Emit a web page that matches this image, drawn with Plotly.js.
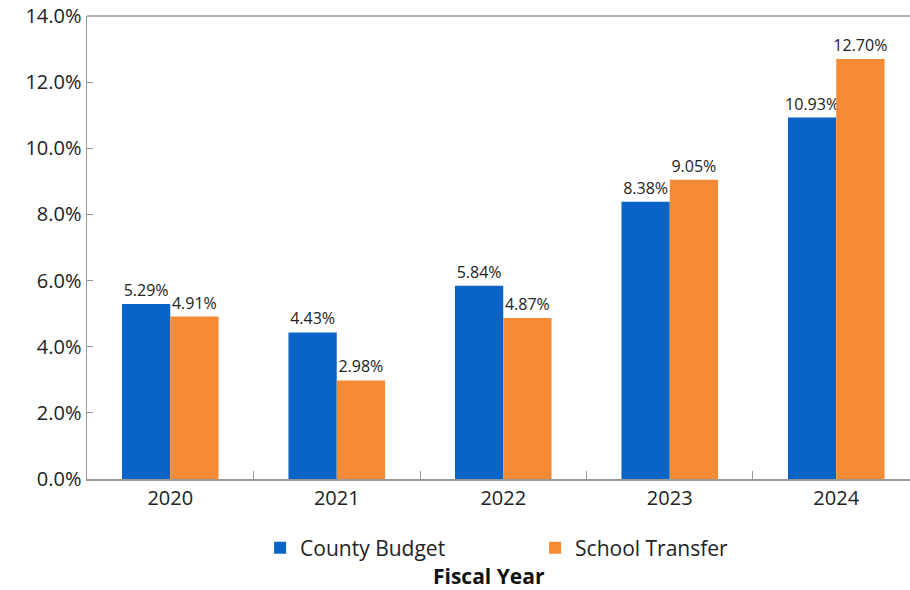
<!DOCTYPE html>
<html><head><meta charset="utf-8">
<script src="https://cdn.plot.ly/plotly-3.0.1.min.js"></script>
<style>html,body{margin:0;padding:0;background:#fff;overflow:hidden}</style>
</head><body><div id="chart" style="width:910px;height:590px"></div>
<script>
const years = ['2020','2021','2022','2023','2024'];
const countyBudget = [5.29, 4.43, 5.84, 8.38, 10.93];
const schoolTransfer = [4.91, 2.98, 4.87, 9.05, 12.70];
const yTicks = [0,2,4,6,8,10,12,14];
const yTickText = yTicks.map(v => v.toFixed(1) + '%');

const font = 'Open Sans, Noto Sans, sans-serif';
const traces = [
  {type:'bar', name:'County Budget', x:years, y:countyBudget,
   marker:{color:'#0a64c8'}, text:countyBudget.map(v=>v.toFixed(2)+'%'),
   textposition:'outside', constraintext:'none', textfont:{size:16,color:'#222',family:font}, cliponaxis:false, hoverinfo:'none'},
  {type:'bar', name:'School Transfer', x:years, y:schoolTransfer,
   marker:{color:'#f78a35'}, text:schoolTransfer.map(v=>v.toFixed(2)+'%'),
   textposition:'outside', constraintext:'none', textfont:{size:16,color:'#222',family:font}, cliponaxis:false, hoverinfo:'none'}
];
const layout = {
  width:910, height:590,
  margin:{l:87, r:0, t:16, b:111, pad:0},
  paper_bgcolor:'#fff', plot_bgcolor:'#fff',
  font:{family:font, color:'#222'},
  barmode:'group', bargap:0.42, bargroupgap:0,
  xaxis:{type:'category', range:[-0.5,4.443], automargin:false, showline:true, linecolor:'#999', linewidth:1.5,
    ticks:'inside', tickson:'boundaries', ticklen:8, tickcolor:'#999',
    tickfont:{size:20,color:'#222'}, showgrid:false, fixedrange:true},
  yaxis:{range:[0,14], automargin:false, tickvals:yTicks, ticktext:yTickText, showline:true, linecolor:'#999', linewidth:1.5,
    ticks:'inside', ticklen:6, tickcolor:'#999', showgrid:false, zeroline:false,
    tickfont:{size:20,color:'#222'}, fixedrange:true},
  shapes:[{type:'line', xref:'paper', yref:'paper', x0:0, x1:1, y0:1, y1:1, line:{color:'#999', width:1.5}}],
  showlegend:true,
  legend:{orientation:'h', x:0.2103, xanchor:'left', y:-0.149, yanchor:'middle',
    entrywidth:230, entrywidthmode:'pixels', font:{size:21,color:'#222'}, itemclick:false},
  annotations:[{text:'<b>Fiscal Year</b>', xref:'paper', yref:'paper', x:0.4886, y:-0.21, yanchor:'middle',
    showarrow:false, font:{size:21,color:'#111'}}]
};
Plotly.newPlot('chart', traces, layout, {displayModeBar:false, staticPlot:true});
</script></body></html>
